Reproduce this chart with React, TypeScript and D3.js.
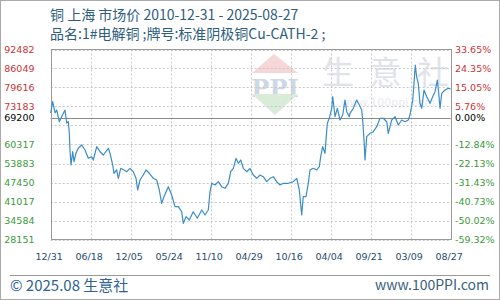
import React from "react";
import * as d3 from "d3";

const dates: string[] = [
  "2010-12-31","2011-01-27","2011-02-27","2011-03-21","2011-04-25","2011-05-27","2011-07-10","2011-08-02","2011-08-24","2011-09-06",
  "2011-09-15","2011-09-29","2011-10-21","2011-11-08","2011-12-05","2012-01-04","2012-02-19","2012-04-03","2012-05-17","2012-07-02",
  "2012-07-23","2012-09-07","2012-10-21","2012-12-04","2013-02-09","2013-03-04","2013-04-09","2013-04-26","2013-06-01","2013-06-23",
  "2013-07-25","2013-09-07","2013-10-13","2013-11-26","2014-01-09","2014-02-15","2014-03-09","2014-04-09","2014-05-23","2014-06-28",
  "2014-08-12","2014-10-04","2014-11-19","2014-12-23","2015-01-24","2015-02-24","2015-04-23","2015-06-07","2015-07-21","2015-09-04",
  "2015-10-19","2015-11-10","2015-12-16","2016-01-29","2016-03-22","2016-05-15","2016-07-13","2016-08-26","2016-10-09","2016-11-01",
  "2016-11-24","2017-01-07","2017-02-20","2017-04-06","2017-05-21","2017-07-04","2017-08-05","2017-09-09","2017-10-15","2017-11-15",
  "2017-12-17","2018-01-21","2018-03-07","2018-04-20","2018-06-03","2018-07-19","2018-09-01","2018-10-15","2018-11-30","2019-01-13",
  "2019-02-26","2019-04-12","2019-05-27","2019-07-10","2019-09-15","2019-11-21","2020-01-05","2020-02-09","2020-03-12","2020-04-02",
  "2020-05-09","2020-06-08","2020-07-01","2020-08-14","2020-09-29","2020-11-03","2020-11-21","2020-12-18","2021-01-18","2021-01-31",
  "2021-02-18","2021-03-16","2021-04-18","2021-05-01","2021-06-01","2021-07-02","2021-08-07","2021-09-12","2021-10-13","2021-11-04",
  "2021-12-09","2021-12-18","2022-02-01","2022-03-18","2022-04-22","2022-05-24","2022-06-06","2022-06-24","2022-07-07","2022-07-30",
  "2022-09-12","2022-10-26","2022-12-11","2023-01-24","2023-03-09","2023-04-24","2023-05-15","2023-06-29","2023-08-13","2023-09-26",
  "2023-11-10","2023-12-24","2024-02-07","2024-02-29","2024-04-06","2024-04-23","2024-05-10","2024-05-28","2024-06-19","2024-07-12",
  "2024-08-04","2024-09-04","2024-10-10","2024-11-23","2024-12-29","2025-01-29","2025-03-01","2025-03-20","2025-04-06","2025-04-29",
  "2025-06-12","2025-07-26","2025-08-27"
];

const prices: number[] = [
  70981,74807,70981,71997,68036,69729,71997,67596,68036,64210,
  58454,53375,57878,54493,57438,59029,60147,58454,55644,56185,
  55068,59571,57878,56761,59029,57337,53375,50565,51682,48872,
  52258,51682,51107,52258,51107,48872,44911,48297,49989,51682,
  50565,48872,48297,44911,40408,42642,46028,43218,39256,39256,
  37564,33636,35871,34753,37564,35329,38139,36446,38139,44335,
  47179,46604,47721,46028,45486,47179,51107,52258,55644,53951,
  55068,52258,51107,52190,49989,48872,49989,49414,47721,48872,
  49414,47721,46604,47179,47179,47721,48872,44911,36446,42642,
  42642,47179,51682,52258,51682,52800,56185,59571,57337,61840,
  67494,69187,72573,76500,69729,72573,68611,70304,75383,71422,
  69729,70880,72573,75383,73690,71997,68611,61840,55068,62957,
  64108,64650,66343,69187,69187,68036,64108,68611,69729,66918,
  68611,68036,68611,70304,75383,81037,87233,83272,81037,74266,
  72573,78769,76500,74266,76500,78193,82155,77651,72573,77651,
  78769,79344,79107
];

const gridValues: number[] = [28151, 34584, 41017, 47450, 53883, 60317, 66750, 73183, 79616, 86049, 92482];
const leftLabels: string[] = ["92482", "86049", "79616", "73183", "69200", "60317", "53883", "47450", "41017", "34584", "28151"];
const rightLabels: string[] = ["33.65%", "24.35%", "15.05%", "5.76%", "0.00%", "-12.84%", "-22.13%", "-31.43%", "-40.73%", "-50.02%", "-59.32%"];
const labelValues: number[] = [92482, 86049, 79616, 73183, 69200, 60317, 53883, 47450, 41017, 34584, 28151];
const baseValue = 69200;
const xTickDates: string[] = ["2010-12-31","2012-06-18","2013-12-05","2015-05-24","2016-11-10","2018-04-29","2019-10-16","2021-04-04","2022-09-21","2024-03-09","2025-08-27"];
const xTickLabels: string[] = ["12/31","06/18","12/05","05/24","11/10","04/29","10/16","04/04","09/21","03/09","08/27"];

const title1 = "铜 上海 市场价 2010-12-31 - 2025-08-27";
const title2 = "品名:1#电解铜 ;牌号:标准阴极铜Cu-CATH-2 ;";

export default function App() {
  const parse = d3.utcParse("%Y-%m-%d");
  const L = 50.7, R = 450.7, T = 49.5, B = 239.5;
  const x = d3.scaleUtc().domain([parse(dates[0])!, parse(dates[dates.length - 1])!]).range([L, R]);
  const y = d3.scaleLinear().domain([28151, 92482]).range([B, T]);
  const data = dates.map((d, i) => ({ d: parse(d)!, v: prices[i] }));
  const line = d3.line<{ d: Date; v: number }>().x(p => x(p.d)).y(p => y(p.v));
  const axisFont = "'DejaVu Sans', Verdana, sans-serif";
  const cjk = "'Noto Sans CJK SC', sans-serif";
  const labelColor = (v: number) => (v > baseValue ? "#cc3333" : v < baseValue ? "#3a9a3a" : "#000");

  return (
    <svg width={500} height={300} style={{ position: "absolute", left: 0, top: 0, background: "#fff" }}>
      <rect x={0.5} y={0.5} width={499} height={299} fill="#fff" stroke="#aaa" />
      <text x={50} y={20} fontFamily={cjk} fontSize={14} fill="#2e5d7d">{title1}</text>
      <text x={50} y={39} fontFamily={cjk} fontSize={14} fill="#2e5d7d">{title2}</text>

      {/* watermark */}
      <g opacity={0.9}>
        <polygon points={`${252},${73} ${274},${54} ${298},${73}`} fill="#f6d3d3" />
        <text x={275} y={97} textAnchor="middle" fontFamily="'DejaVu Serif', serif" fontWeight="bold" fontSize={24} fill="#c9d3e3">PPI</text>
        <polygon points={`${252},${94} ${298},${94} ${275},${115}`} fill="#d5ebd5" />
        {["生", "意", "社"].map((c, i) => (
          <text key={c} x={338 + i * 47.5} y={84} textAnchor="middle" fontFamily={cjk} fontSize={32} fill="#dde1e8">{c}</text>
        ))}
        <text x={388} y={106} textAnchor="middle" fontFamily={axisFont} fontSize={11} fill="#e6e9ee">www.100ppi.com</text>
      </g>

      {/* grid */}
      {gridValues.map(v => (
        <line key={"gy" + v} x1={L} x2={R} y1={Math.round(y(v)) + 0.5} y2={Math.round(y(v)) + 0.5} stroke="#c8c8c8" strokeDasharray="2,2" />
      ))}
      {xTickDates.map(d => (
        <line key={"gx" + d} x1={Math.round(x(parse(d)!)) + 0.5} x2={Math.round(x(parse(d)!)) + 0.5} y1={T} y2={B} stroke="#c8c8c8" strokeDasharray="2,2" />
      ))}
      <line x1={L} x2={R} y1={Math.round(y(baseValue)) + 0.5} y2={Math.round(y(baseValue)) + 0.5} stroke="#8a8a8a" />
      <rect x={Math.round(L) + 0.5} y={Math.round(T) - 0.5} width={Math.round(R - L)} height={Math.round(B - T)} fill="none" stroke="#999" />

      <path d={line(data) || ""} fill="none" stroke="#3a8dc8" strokeWidth={1.2} strokeLinejoin="round" />

      {/* y labels */}
      {labelValues.map((v, i) => (
        <text key={"l" + i} x={34.5} y={y(v)} dy="0.33em" textAnchor="end" fontFamily={axisFont} fontSize={9.5} fill={labelColor(v)}>{leftLabels[i]}</text>
      ))}
      {labelValues.map((v, i) => (
        <text key={"r" + i} x={455} y={y(v)} dy="0.33em" fontFamily={axisFont} fontSize={9.5} fill={labelColor(v)}>{rightLabels[i]}</text>
      ))}
      {xTickDates.map((d, i) => (
        <text key={"x" + i} x={x(parse(d)!) - 1.5} y={260} textAnchor="middle" fontFamily={axisFont} fontSize={9.5} fill="#1f4d6e">{xTickLabels[i]}</text>
      ))}

      {/* footer */}
      <line x1={10} x2={490} y1={275.5} y2={275.5} stroke="#999" />
      <text x={10} y={291} fontFamily={cjk} fontSize={15} fill="#2e6196">© 2025.08 生意社</text>
      <text x={489} y={290} textAnchor="end" fontFamily={cjk} fontSize={14} fill="#3a5f7f">www.100PPI.com</text>
    </svg>
  );
}
